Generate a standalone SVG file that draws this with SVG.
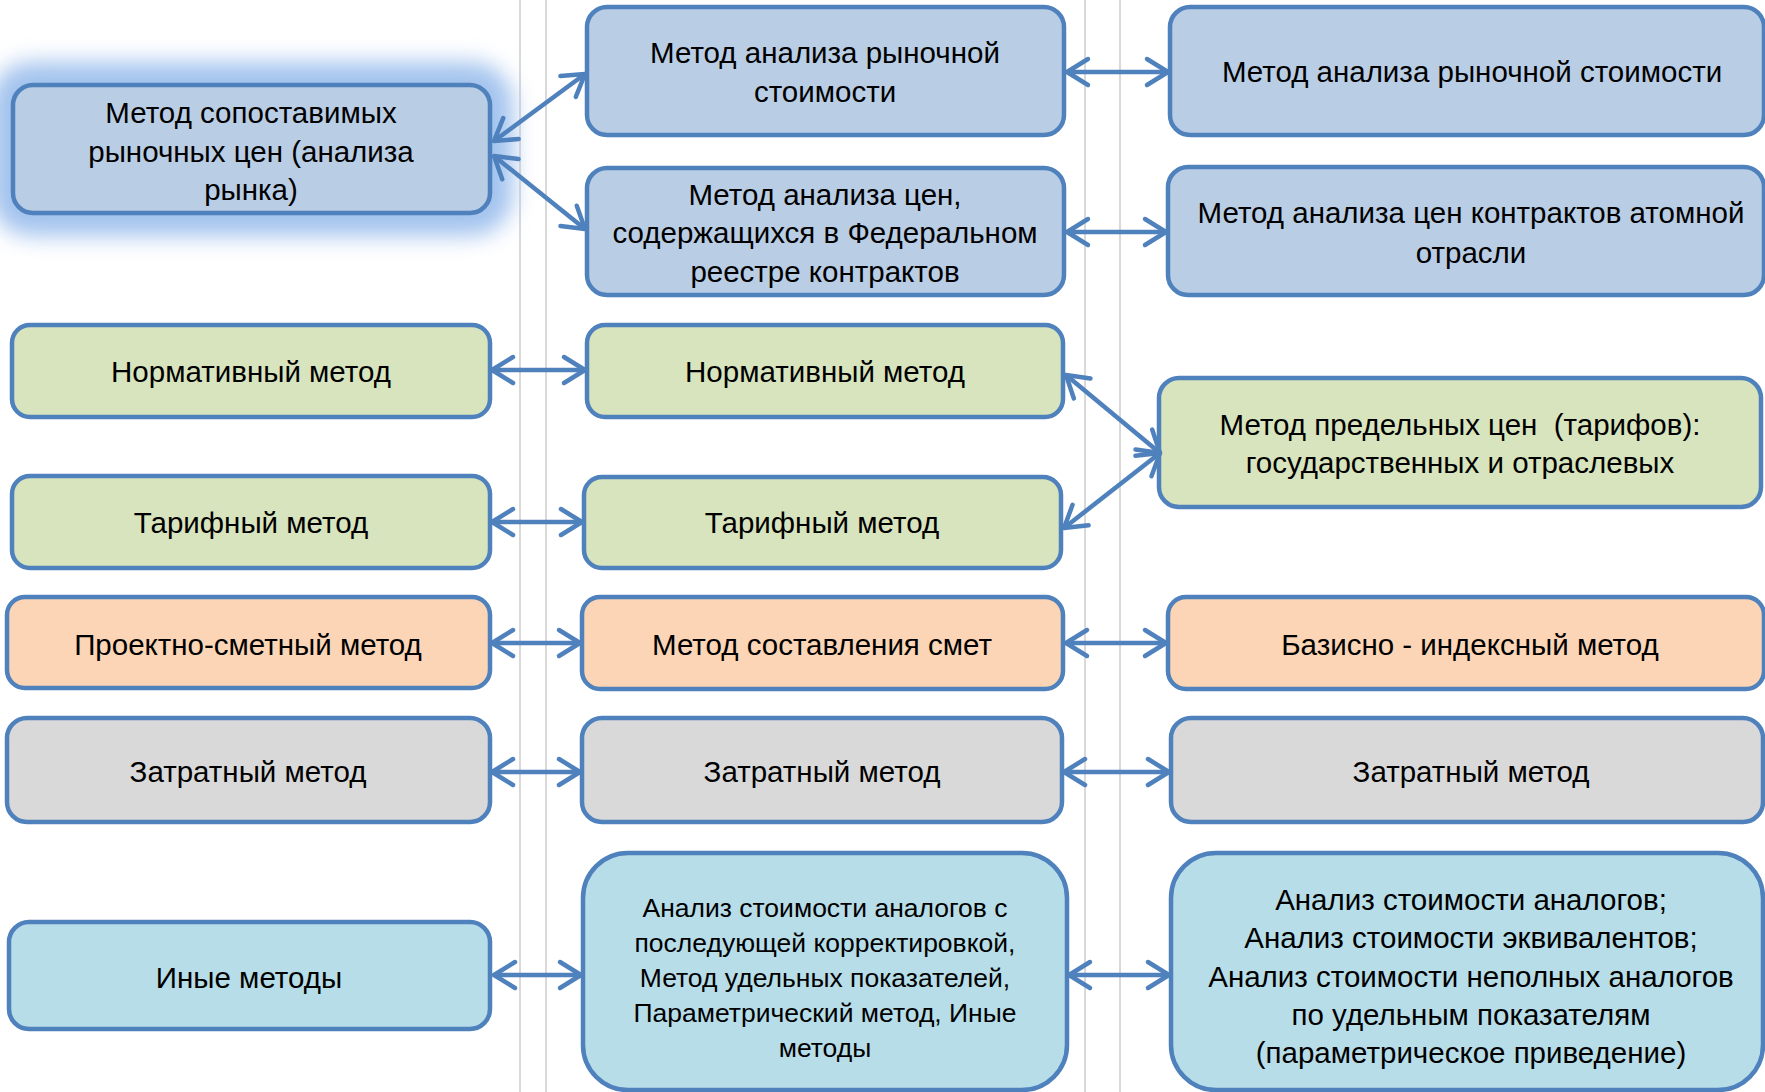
<svg xmlns="http://www.w3.org/2000/svg" width="1765" height="1092" viewBox="0 0 1765 1092">
<defs>
<style>
.box{stroke:#4f81bd;stroke-width:4.5}
.blue{fill:#b9cde5}
.green{fill:#d7e4bd}
.orange{fill:#fbd5b5}
.gray{fill:#d9d9d9}
.cyan{fill:#b7dde8}
.t{font-family:"Liberation Sans",Arial,sans-serif;font-size:29.5px;fill:#000;text-anchor:middle}
.ts{font-size:26.5px}
.grid{stroke:#d9d9d9;stroke-width:2}
.conn{stroke:#4f81bd;stroke-width:4.5;fill:none;marker-start:url(#ah);marker-end:url(#ah)}
</style>
<marker id="ah" markerUnits="userSpaceOnUse" viewBox="-27 -17 31 34" refX="0" refY="0" markerWidth="31" markerHeight="34" orient="auto-start-reverse">
<path d="M-21,-13 L0,0 L-21,13" fill="none" stroke="#4f81bd" stroke-width="4.5" stroke-linecap="round" stroke-linejoin="round"/>
</marker>
<filter id="glow" x="-30%" y="-80%" width="160%" height="260%">
<feGaussianBlur stdDeviation="11"/>
</filter>
</defs>
<rect width="1765" height="1092" fill="#fff"/>
<g id="gridlines">
<line class="grid" x1="520" y1="0" x2="520" y2="1092"/>
<line class="grid" x1="546" y1="0" x2="546" y2="1092"/>
<line class="grid" x1="1085" y1="0" x2="1085" y2="1092"/>
<line class="grid" x1="1120" y1="0" x2="1120" y2="1092"/>
</g>
<g id="n1">
<rect x="8" y="80" width="487" height="138" rx="24" fill="#a3c3ee" stroke="#a3c3ee" stroke-width="36" filter="url(#glow)"/>
<rect class="box blue" x="13" y="85" width="477" height="128" rx="20"/>
<text class="t" x="251" y="123">Метод сопоставимых</text>
<text class="t" x="251" y="162">рыночных цен (анализа</text>
<text class="t" x="251" y="200">рынка)</text>
</g>
<g id="n2">
<rect class="box blue" x="587" y="7" width="477" height="128" rx="20"/>
<text class="t" x="825" y="63">Метод анализа рыночной</text>
<text class="t" x="825" y="102">стоимости</text>
</g>
<g id="n3">
<rect class="box blue" x="587" y="168" width="477" height="127" rx="20"/>
<text class="t" x="825" y="205">Метод анализа цен,</text>
<text class="t" x="825" y="243">содержащихся в Федеральном</text>
<text class="t" x="825" y="282">реестре контрактов</text>
</g>
<g id="n4">
<rect class="box blue" x="1170" y="7" width="594" height="128" rx="20"/>
<text class="t" x="1472" y="82">Метод анализа рыночной стоимости</text>
</g>
<g id="n5">
<rect class="box blue" x="1168" y="167" width="596" height="128" rx="20"/>
<text class="t" x="1471" y="223">Метод анализа цен контрактов атомной</text>
<text class="t" x="1471" y="263">отрасли</text>
</g>
<g id="n6">
<rect class="box green" x="12" y="325" width="478" height="92" rx="18"/>
<text class="t" x="251" y="382">Нормативный метод</text>
</g>
<g id="n7">
<rect class="box green" x="587" y="325" width="476" height="92" rx="18"/>
<text class="t" x="825" y="382">Нормативный метод</text>
</g>
<g id="n8">
<rect class="box green" x="12" y="476" width="478" height="92" rx="18"/>
<text class="t" x="251" y="533">Тарифный метод</text>
</g>
<g id="n9">
<rect class="box green" x="584" y="477" width="477" height="91" rx="18"/>
<text class="t" x="822" y="533">Тарифный метод</text>
</g>
<g id="n10">
<rect class="box green" x="1159" y="378" width="602" height="129" rx="20"/>
<text class="t" x="1460" y="435" xml:space="preserve">Метод предельных цен  (тарифов):</text>
<text class="t" x="1460" y="473">государственных и отраслевых</text>
</g>
<g id="n11">
<rect class="box orange" x="7" y="597" width="483" height="91" rx="18"/>
<text class="t" x="248" y="655">Проектно-сметный метод</text>
</g>
<g id="n12">
<rect class="box orange" x="582" y="597" width="481" height="92" rx="18"/>
<text class="t" x="822" y="655">Метод составления смет</text>
</g>
<g id="n13">
<rect class="box orange" x="1168" y="597" width="596" height="92" rx="18"/>
<text class="t" x="1470" y="655">Базисно - индексный метод</text>
</g>
<g id="n14">
<rect class="box gray" x="7" y="718" width="483" height="104" rx="20"/>
<text class="t" x="248" y="782">Затратный метод</text>
</g>
<g id="n15">
<rect class="box gray" x="582" y="718" width="480" height="104" rx="20"/>
<text class="t" x="822" y="782">Затратный метод</text>
</g>
<g id="n16">
<rect class="box gray" x="1171" y="718" width="592" height="104" rx="20"/>
<text class="t" x="1471" y="782">Затратный метод</text>
</g>
<g id="n17">
<rect class="box cyan" x="9" y="922" width="481" height="107" rx="20"/>
<text class="t" x="249" y="988">Иные методы</text>
</g>
<g id="n18">
<rect class="box cyan" x="583" y="853" width="484" height="237" rx="45"/>
<text class="t ts" x="825" y="917">Анализ стоимости аналогов с</text>
<text class="t ts" x="825" y="952">последующей корректировкой,</text>
<text class="t ts" x="825" y="987">Метод удельных показателей,</text>
<text class="t ts" x="825" y="1022">Параметрический метод, Иные</text>
<text class="t ts" x="825" y="1057">методы</text>
</g>
<g id="n19">
<rect class="box cyan" x="1171" y="853" width="592" height="237" rx="45"/>
<text class="t" x="1471" y="910">Анализ стоимости аналогов;</text>
<text class="t" x="1471" y="948">Анализ стоимости эквивалентов;</text>
<text class="t" x="1471" y="987">Анализ стоимости неполных аналогов</text>
<text class="t" x="1471" y="1025">по удельным показателям</text>
<text class="t" x="1471" y="1063">(параметрическое приведение)</text>
</g>
<g id="connectors">
<line class="conn" x1="494" y1="141" x2="585" y2="74"/>
<line class="conn" x1="494" y1="156" x2="585" y2="229"/>
<line class="conn" x1="1067" y1="72" x2="1168" y2="72"/>
<line class="conn" x1="1067" y1="232" x2="1166" y2="232"/>
<line class="conn" x1="492" y1="370" x2="585" y2="370"/>
<line class="conn" x1="492" y1="522" x2="582" y2="522"/>
<line class="conn" x1="1066" y1="375" x2="1160" y2="453"/>
<line class="conn" x1="1160" y1="453" x2="1064" y2="528"/>
<line class="conn" x1="492" y1="643" x2="580" y2="643"/>
<line class="conn" x1="1066" y1="643" x2="1166" y2="643"/>
<line class="conn" x1="492" y1="772" x2="580" y2="772"/>
<line class="conn" x1="1064" y1="772" x2="1169" y2="772"/>
<line class="conn" x1="494" y1="975" x2="581" y2="975"/>
<line class="conn" x1="1069" y1="975" x2="1169" y2="975"/>
</g>
</svg>
